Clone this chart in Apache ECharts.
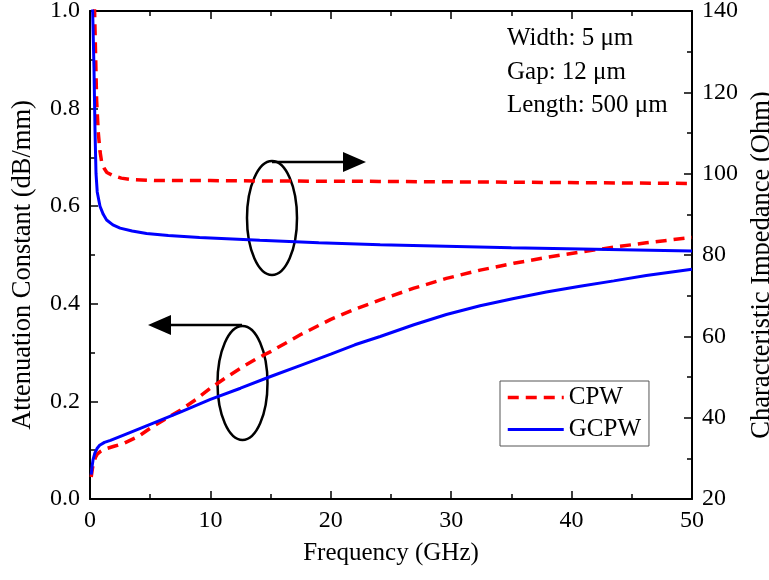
<!DOCTYPE html>
<html>
<head>
<meta charset="utf-8">
<script src="https://cdn.jsdelivr.net/npm/echarts@6/dist/echarts.min.js"></script>
<style>html,body{margin:0;padding:0;background:#fff}#c{width:769px;height:580px}</style>
</head>
<body>
<div id="c"></div>
<script>
// ---- data ----
const cpwAttFreq = [0.1, 0.2, 0.3, 0.45, 0.6, 0.9, 1.2, 2, 2.8, 4, 5, 6.2, 7.5, 8.8, 10, 11.3, 12.7, 13.8, 15, 17.5, 20, 22, 24.1, 26.9, 29.6, 32.4, 35.2, 37.9, 40.7, 43.5, 46.2, 50];
const cpwAtt     = [0.045, 0.062, 0.075, 0.085, 0.092, 0.098, 0.102, 0.108, 0.114, 0.128, 0.145, 0.163, 0.182, 0.204, 0.227, 0.249, 0.271, 0.287, 0.302, 0.337, 0.368, 0.389, 0.408, 0.432, 0.452, 0.469, 0.483, 0.495, 0.506, 0.516, 0.525, 0.536];
const gcpwAttFreq = [0.1, 0.18, 0.25, 0.4, 0.6, 0.8, 1.2, 1.7, 3, 5, 7.5, 10, 12.5, 15, 17.5, 20, 22, 24.1, 26.9, 29.6, 32.4, 35.2, 37.9, 40.7, 43.5, 46.2, 50];
const gcpwAtt     = [0.05, 0.068, 0.08, 0.094, 0.104, 0.11, 0.116, 0.12, 0.133, 0.153, 0.178, 0.204, 0.227, 0.251, 0.274, 0.297, 0.316, 0.333, 0.357, 0.378, 0.396, 0.411, 0.424, 0.436, 0.447, 0.458, 0.471];
const cpwZFreq = [0.3, 0.42, 0.55, 0.69, 0.83, 0.97, 1.2, 1.4, 1.94, 2.6, 3.3, 5.5, 10, 15, 24, 35, 50];
const cpwZ     = [150, 135, 118, 110, 105.5, 102.8, 101.2, 100.3, 99.5, 98.9, 98.6, 98.3, 98.3, 98.2, 98.1, 97.9, 97.6];
const gcpwZFreq = [0.15, 0.22, 0.33, 0.42, 0.5, 0.6, 0.83, 1.1, 1.38, 1.9, 2.5, 3.5, 4.7, 6.5, 9.1, 14.1, 19, 24.1, 35, 50];
const gcpwZ     = [150, 140, 126, 110, 100, 95.5, 92, 90, 88.6, 87.4, 86.6, 85.9, 85.3, 84.8, 84.3, 83.6, 83.0, 82.5, 81.8, 81.0];
const seriesNames = ['CPW', 'GCPW'];
const xTitle = 'Frequency (GHz)';
const yLeftTitle = 'Attenuation Constant (dB/mm)';
const yRightTitle = 'Characteristic Impedance (Ohm)';
const infoLines = ['Width: 5 \u03bcm', 'Gap: 12 \u03bcm', 'Length: 500 \u03bcm'];

const pair = (xs, ys) => xs.map((x, i) => [x, ys[i]]);
const FONT = 'Liberation Serif';
const RED = '#ff0000', BLUE = '#0000ff';
const redLine = { color: RED, width: 3.5, type: [11, 7] };
const blueLine = { color: BLUE, width: 3, type: 'solid' };

const chart = echarts.init(document.getElementById('c'), null, { renderer: 'canvas' });

const axisCommon = {
  axisLine: { show: true, onZero: false, lineStyle: { color: '#000', width: 2 } },
  axisTick: { show: true, inside: true, length: 8, lineStyle: { color: '#000', width: 1.5 } },
  minorTick: { show: true, splitNumber: 2, length: 5, lineStyle: { color: '#000', width: 1.5 } },
  splitLine: { show: false },
  axisLabel: { color: '#000', fontFamily: FONT, fontSize: 24, margin: 10 },
  nameTextStyle: { color: '#000', fontFamily: FONT, fontSize: 25 }
};
const yNameStyle = { color: '#000', fontFamily: FONT, fontSize: 26.5, padding: [0, 20, 0, 0] };

const mkSeries = (name, yIdx, xs, ys, ls, col) => ({
  name, type: 'line', xAxisIndex: 0, yAxisIndex: yIdx, data: pair(xs, ys),
  showSymbol: false, symbol: 'none', smooth: false, lineStyle: ls, itemStyle: { color: col }, clip: true
});

const option = {
  animation: false,
  backgroundColor: '#fff',
  grid: { left: 90, right: 77, top: 11, bottom: 81, containLabel: false, outerBoundsMode: 'none' },
  xAxis: [
    Object.assign({}, axisCommon, {
      type: 'value', min: 0, max: 50, interval: 10, position: 'bottom',
      name: xTitle, nameLocation: 'middle', nameGap: 42
    }),
    Object.assign({}, axisCommon, {
      type: 'value', min: 0, max: 50, interval: 10, position: 'top',
      axisLabel: { show: false }
    })
  ],
  yAxis: [
    Object.assign({}, axisCommon, {
      type: 'value', min: 0, max: 1.0, interval: 0.2, position: 'left',
      axisLabel: Object.assign({}, axisCommon.axisLabel, { formatter: v => v.toFixed(1) }),
      name: yLeftTitle, nameLocation: 'middle', nameGap: 53, nameTextStyle: yNameStyle
    }),
    Object.assign({}, axisCommon, {
      type: 'value', min: 20, max: 140, interval: 20, position: 'right',
      name: yRightTitle, nameLocation: 'middle', nameGap: 47, nameRotate: 90, nameTextStyle: yNameStyle
    })
  ],
  legend: {
    left: 500, top: 381, orient: 'vertical',
    itemWidth: 56, itemHeight: 14, itemGap: 7,
    padding: [4, 8, 4, 6],
    borderColor: '#555', borderWidth: 1,
    textStyle: { color: '#000', fontFamily: FONT, fontSize: 25 },
    data: [
      { name: seriesNames[0], lineStyle: redLine, itemStyle: { opacity: 0 } },
      { name: seriesNames[1], lineStyle: blueLine, itemStyle: { opacity: 0 } }
    ]
  },
  series: [
    mkSeries(seriesNames[0], 0, cpwAttFreq, cpwAtt, redLine, RED),
    mkSeries(seriesNames[1], 0, gcpwAttFreq, gcpwAtt, blueLine, BLUE),
    mkSeries(seriesNames[0], 1, cpwZFreq, cpwZ, redLine, RED),
    mkSeries(seriesNames[1], 1, gcpwZFreq, gcpwZ, blueLine, BLUE)
  ],
  graphic: [
    { type: 'text', left: 507, top: 26, style: { text: infoLines[0], font: '25px ' + FONT, fill: '#000' } },
    { type: 'text', left: 507, top: 60, style: { text: infoLines[1], font: '25px ' + FONT, fill: '#000' } },
    { type: 'text', left: 507, top: 93, style: { text: infoLines[2], font: '25px ' + FONT, fill: '#000' } },
    { type: 'ellipse', shape: { cx: 272, cy: 218, rx: 25, ry: 57 }, style: { fill: 'none', stroke: '#000', lineWidth: 2.5 } },
    { type: 'line', shape: { x1: 272, y1: 162, x2: 346, y2: 162 }, style: { stroke: '#000', lineWidth: 2.5 } },
    { type: 'polygon', shape: { points: [[343, 152], [366, 162], [343, 172]] }, style: { fill: '#000' } },
    { type: 'ellipse', shape: { cx: 242.5, cy: 383, rx: 25, ry: 57 }, style: { fill: 'none', stroke: '#000', lineWidth: 2.5 } },
    { type: 'line', shape: { x1: 242, y1: 325, x2: 168, y2: 325 }, style: { stroke: '#000', lineWidth: 2.5 } },
    { type: 'polygon', shape: { points: [[171, 315], [148, 325], [171, 335]] }, style: { fill: '#000' } }
  ]
};
chart.setOption(option);
</script>
</body>
</html>
